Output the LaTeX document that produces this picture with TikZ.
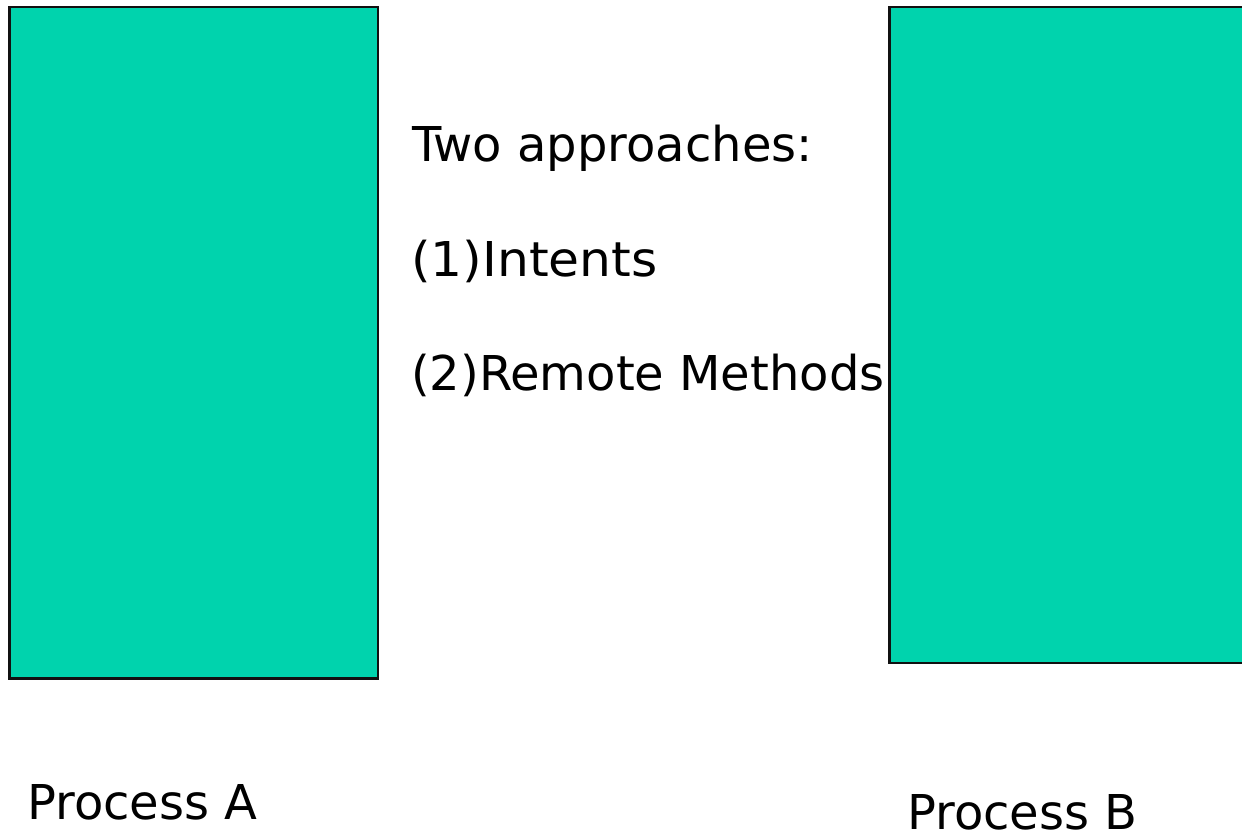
\documentclass[tikz,border=0pt]{standalone}
\usepackage{fontspec}
\setmainfont{DejaVu Sans}
\definecolor{procfill}{HTML}{00D3AD}
\definecolor{procline}{HTML}{111111}
\begin{document}
\begin{tikzpicture}[x=1pt,y=-1pt,
  procbox/.style={draw=procline,fill=procfill,line width=2.5pt},
  label/.style={anchor=base west,inner sep=0pt,font=\fontsize{48}{58}\selectfont}]
\useasboundingbox[fill=white] (0,0) rectangle (1242,837);
\begin{scope}
\clip (0,0) rectangle (1242,837);
\draw[procbox] (9.5,7) rectangle (378,678.5);
\node[inner sep=0pt] (procA) at (193.75,342.75) {};
\draw[procbox] (889.5,7) rectangle (1260,662.8);
\node[inner sep=0pt] (procB) at (1075,335) {};
\end{scope}
\node[label] (title) at (412,162) {Two approaches:};
\node[label] (item1) at (411,276) {\scalebox{1.048}[1]{(1)Intents}};
\node[label] (item2) at (411,390) {(2)Remote Methods};
\node[label] (labA) at (27,819) {Process A};
\node[label,text depth=0pt] (labB) at (907,829) {Process B};
\end{tikzpicture}
\end{document}
